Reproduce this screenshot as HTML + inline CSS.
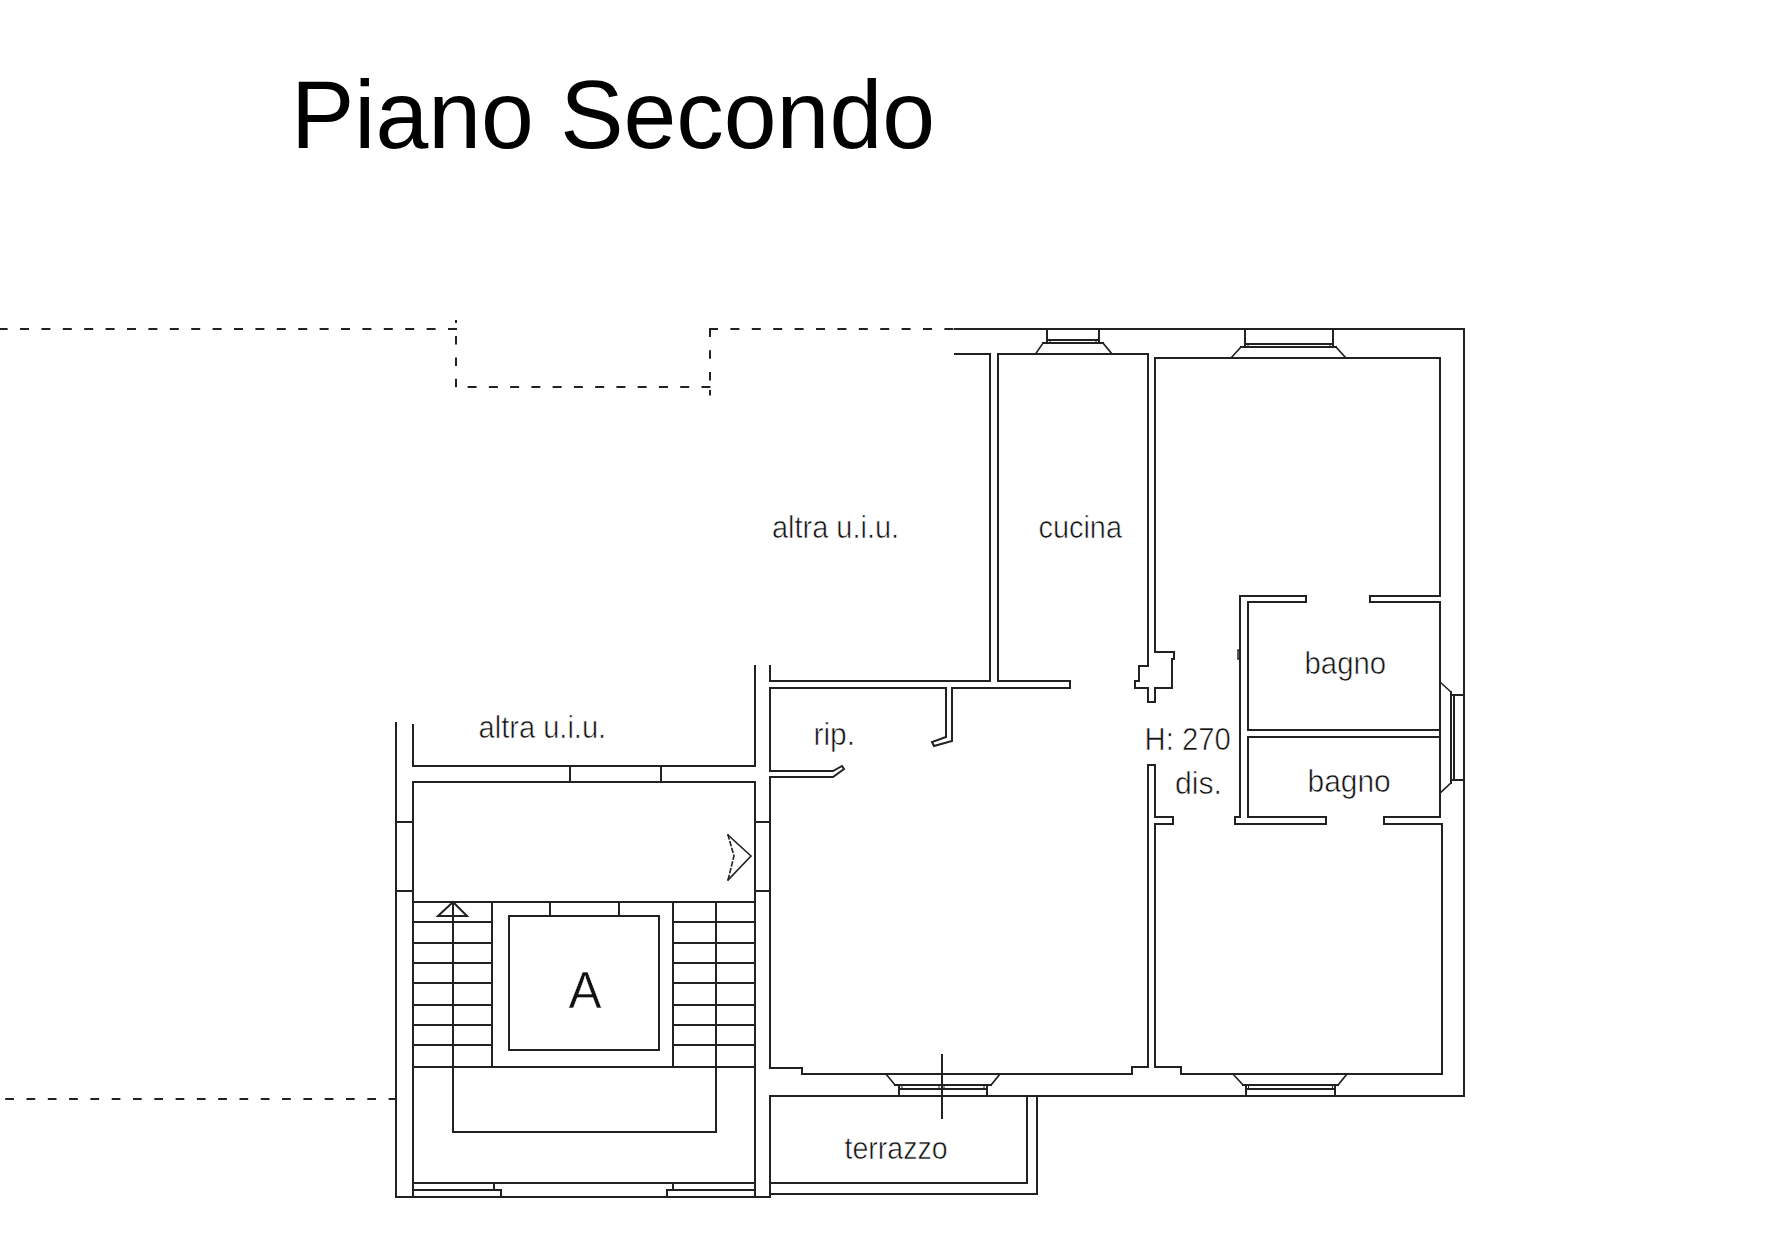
<!DOCTYPE html>
<html><head><meta charset="utf-8">
<style>
html,body{margin:0;padding:0;background:#fff;width:1788px;height:1248px;overflow:hidden;}
svg{position:absolute;left:0;top:0;display:block;}
text{font-family:"Liberation Sans",sans-serif;fill:#111;}
</style></head><body>
<svg width="1788" height="1248" viewBox="0 0 1788 1248">
<rect x="0" y="0" width="1788" height="1248" fill="#fff"/>
<text x="291" y="148" font-size="96" style="fill:#000" textLength="644" lengthAdjust="spacingAndGlyphs">Piano Secondo</text>

<g fill="none" stroke="#222" stroke-width="2">
<path d="M0 329H457" stroke-dasharray="9 12.4" stroke-dashoffset="1.4"/>
<path d="M456 320V388" stroke-dasharray="8.5 12.9" stroke-dashoffset="5.4"/>
<path d="M456 387H711" stroke-dasharray="9 12.26" stroke-dashoffset="9.66"/>
<path d="M710 328.5V381" stroke-dasharray="8.5 13.3"/><path d="M710 390V395.5"/>
<path d="M709 329H955" stroke-dasharray="9 12.4"/>
<path d="M0 1099H396" stroke-dasharray="8.7 12.6" stroke-dashoffset="16.1"/>
</g>

<g fill="none" stroke="#222" stroke-width="2" stroke-linejoin="miter" stroke-linecap="square">
<!-- outer -->
<path d="M955 329H1464V1096H770"/>
<!-- cucina left wall -->
<path d="M955 354H990V681H770V666"/>
<!-- cucina right / corridor / top right room -->
<path d="M998 354V681H1070V688H952V741L934 746L932 742L946 737V688H770V771H833L842 766L844 769L833 777H770V1068H802V1074H1132V1067H1148V765H1155V817H1173V824H1155V1067H1181V1074H1442V824H1384V817H1440V602H1370V596H1440V358H1155V652H1174V659H1172V688H1155V702H1148V688H1135V681H1139V666H1148V354Z"/>
<!-- bagno -->
<path d="M1306 596H1240V817H1235V824H1326V817H1248V737H1440"/>
<path d="M1440 730H1248V602H1306V596"/>
<path d="M1240 650H1238V659H1240" stroke-width="1.5"/>
<!-- right window -->
<path d="M1451 692V783"/><path d="M1440 682L1451 692M1451 783L1440 793" stroke-width="1.6"/>
<path d="M1451 695H1464M1451 780H1464M1454 695V780"/>
<!-- top windows -->
<path d="M1047 329V343M1099 329V343M1047 340H1099M1043 343H1103"/><path d="M1050 340V343M1096 340V343" stroke-width="1"/><path d="M1043 343L1035.5 354M1103 343L1112 354" stroke-width="1.6"/>
<path d="M1245 329V347M1333 329V347M1245 344H1333M1241 347H1336"/><path d="M1248 344V347M1330 344V347" stroke-width="1"/><path d="M1241 347L1231 358M1336 347L1346 358" stroke-width="1.6"/>
<!-- bottom windows -->
<path d="M899 1085V1096M987 1085V1096M899 1089H987M895 1085H991"/><path d="M886 1074L895 1085M991 1085L1000 1074" stroke-width="1.6"/><path d="M902 1085V1089M939 1085V1089M944 1085V1089M984 1085V1089" stroke-width="1"/>
<path d="M1246 1085V1096M1335 1085V1096M1246 1089H1335M1243 1085H1338"/><path d="M1233 1074L1243 1085M1338 1085L1347 1074" stroke-width="1.6"/><path d="M1248.5 1085V1089M1332.5 1085V1089" stroke-width="1"/>
<!-- crosshair -->
<path d="M942 1055V1118"/>
<!-- altra uiu top room divider -->
<path d="M755 666V766H413V725"/>
<path d="M396 723V1197H770V1096"/>
<path d="M413 782H755V1197"/>
<path d="M413 782V1197"/>
<path d="M570 766V782M661 766V782"/>
<path d="M396 822H413M396 891H413M755 822H770M755 891H770"/>
<path d="M770 782V1068"/>

<!-- stairs -->
<path d="M413 902H755M413 1067H755"/>
<path d="M492 902V1067M673 902V1067M716 902V1132H453V902"/>
<path d="M453 902L438 916H467Z"/>
<path d="M413 922H492M413 943H492M413 963H492M413 983H492M413 1005H492M413 1025H492M413 1045H492"/>
<path d="M673 922H755M673 943H755M673 963H755M673 983H755M673 1005H755M673 1025H755M673 1045H755"/>
<path d="M509 916H659V1050H509Z"/>
<path d="M550 902V916M619 902V916"/>
<path d="M413 1183H755M494 1183V1190M413 1190H501V1197M673 1183V1190M667 1190H755M667 1190V1197"/>
<!-- arrow -->
<path d="M728 835L751 856L728 880" stroke-width="1.6"/>
<path d="M728 835L734 856L728 880" stroke-dasharray="4 3" stroke-width="1.6"/>
<!-- terrace -->
<path d="M770 1183H1027V1096M1037 1096V1194H770"/>
</g>

<g style="fill:#000;stroke:#fff;stroke-width:0.6px">
<text x="772.0" y="538.2" font-size="31" textLength="127.1" lengthAdjust="spacingAndGlyphs">altra u.i.u.</text>
<text x="1038.5" y="538.4" font-size="31" textLength="83.5" lengthAdjust="spacingAndGlyphs">cucina</text>
<text x="1304.5" y="674.4" font-size="31" textLength="81.6" lengthAdjust="spacingAndGlyphs">bagno</text>
<text x="813.5" y="744.9" font-size="31" textLength="41.6" lengthAdjust="spacingAndGlyphs">rip.</text>
<text x="478.5" y="737.8" font-size="31" textLength="127.7" lengthAdjust="spacingAndGlyphs">altra u.i.u.</text>
<text x="1144.5" y="750.4" font-size="31" textLength="86.2" lengthAdjust="spacingAndGlyphs">H: 270</text>
<text x="1175.0" y="794.4" font-size="31" textLength="47.0" lengthAdjust="spacingAndGlyphs">dis.</text>
<text x="1307.5" y="791.9" font-size="31" textLength="83.2" lengthAdjust="spacingAndGlyphs">bagno</text>
<text x="568.5" y="1007.8" font-size="52" textLength="33.1" lengthAdjust="spacingAndGlyphs">A</text>
<text x="844.5" y="1158.5" font-size="31" textLength="103.0" lengthAdjust="spacingAndGlyphs">terrazzo</text>
</g>
</svg>
</body></html>
